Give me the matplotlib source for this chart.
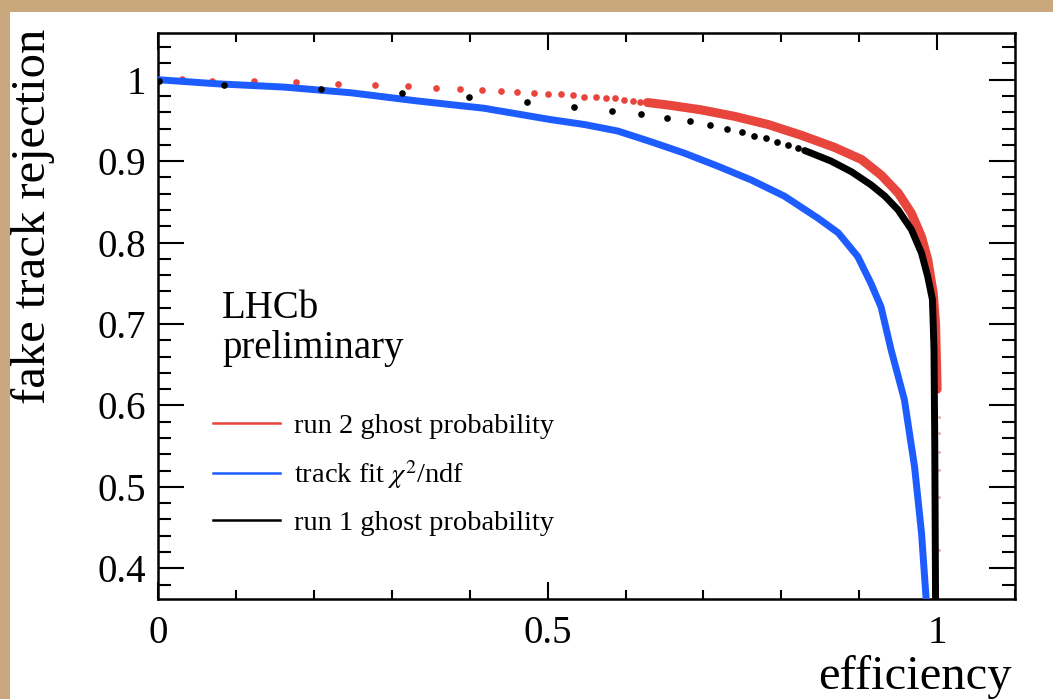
import matplotlib
matplotlib.use("Agg")
import matplotlib.pyplot as plt
from matplotlib.lines import Line2D
from matplotlib.patches import Rectangle
from matplotlib.ticker import MultipleLocator, FixedLocator

plt.rcParams['font.family'] = ['Liberation Serif', 'DejaVu Serif']
plt.rcParams['mathtext.fontset'] = 'stix'

# ---- data ----
red_dot_eff = [0.030, 0.069, 0.123, 0.177, 0.231, 0.278, 0.320, 0.357, 0.388, 0.416,
               0.440, 0.461, 0.483, 0.500, 0.517, 0.532, 0.547, 0.562, 0.575, 0.587,
               0.598, 0.609, 0.619]
red_dot_rej = [1.001, 0.999, 0.998, 0.997, 0.995, 0.993, 0.992, 0.990, 0.989, 0.987,
               0.986, 0.985, 0.984, 0.982, 0.982, 0.981, 0.979, 0.979, 0.978, 0.977,
               0.975, 0.974, 0.973]
red_curve_eff = [0.628, 0.654, 0.697, 0.740, 0.783, 0.825, 0.868, 0.903, 0.928,
                 0.950, 0.967, 0.980, 0.988, 0.995, 0.998, 0.999, 1.000]
red_curve_rej = [0.972, 0.969, 0.963, 0.955, 0.945, 0.932, 0.917, 0.902, 0.883,
                 0.861, 0.836, 0.807, 0.779, 0.738, 0.700, 0.660, 0.620]
red_tail_eff = [1.002, 1.002, 1.002, 1.002, 1.002, 1.002]
red_tail_rej = [0.586, 0.566, 0.543, 0.521, 0.488, 0.423]

black_dot_eff = [0.001, 0.085, 0.209, 0.313, 0.399, 0.474, 0.534, 0.583, 0.620, 0.653,
                 0.683, 0.709, 0.730, 0.749, 0.765, 0.780, 0.795, 0.808, 0.821]
black_dot_rej = [0.999, 0.994, 0.988, 0.984, 0.979, 0.973, 0.967, 0.962, 0.958, 0.953,
                 0.949, 0.944, 0.940, 0.936, 0.931, 0.928, 0.924, 0.920, 0.916]
black_curve_eff = [0.830, 0.838, 0.864, 0.890, 0.915, 0.933, 0.950, 0.967, 0.980, 0.988,
                   0.994, 0.996, 0.997, 0.998]
black_curve_rej = [0.913, 0.910, 0.900, 0.887, 0.871, 0.857, 0.840, 0.816, 0.787, 0.758,
                   0.730, 0.668, 0.550, 0.360]

blue_eff = [0.0, 0.075, 0.161, 0.247, 0.332, 0.418, 0.504, 0.547, 0.590, 0.632, 0.675,
            0.718, 0.761, 0.804, 0.847, 0.873, 0.898, 0.915, 0.928, 0.941, 0.958, 0.971,
            0.980, 0.986]
blue_rej = [1.0, 0.995, 0.991, 0.984, 0.974, 0.965, 0.951, 0.945, 0.937, 0.924, 0.910,
            0.894, 0.877, 0.857, 0.830, 0.812, 0.783, 0.750, 0.721, 0.668, 0.607, 0.525,
            0.443, 0.361]

labels = ["run 2 ghost probability", r"track fit $\chi^2$/ndf", "run 1 ghost probability"]
x_major = [0, 0.5, 1]
y_major = [0.4, 0.5, 0.6, 0.7, 0.8, 0.9, 1.0]
y_ticklabels = ["0.4", "0.5", "0.6", "0.7", "0.8", "0.9", "1"]
x_ticklabels = ["0", "0.5", "1"]

RED = '#e8453c'
BLUE = '#1d5cff'
BLACK = '#000000'
BG = '#c8a87c'

W, H = 1053, 699
fig = plt.figure(figsize=(W / 100, H / 100), dpi=100, facecolor=BG)
fig.patches.append(Rectangle((10 / W, 0), 1, 1 - 12 / H, transform=fig.transFigure,
                             facecolor='white', edgecolor='none', zorder=-10))

ax = fig.add_axes([158.3 / W, 1 - 599.3 / H, (1015 - 158.3) / W, (599.3 - 33.3) / H])
ax.set_xlim(0, 1.1)
ax.set_ylim(0.362, 1.057)

# curves
ax.plot(red_dot_eff, red_dot_rej, 'o', color=RED, ms=4.8, mew=0, zorder=2)
ax.plot(red_curve_eff, red_curve_rej, '-', color=RED, lw=6.5, solid_capstyle='round', zorder=2)
ax.plot(red_tail_eff, red_tail_rej, 'o', color=RED, ms=2, mew=0, alpha=0.5, zorder=2)
ax.plot(blue_eff, blue_rej, '-', color=BLUE, lw=5, solid_capstyle='round', zorder=3)
ax.plot(black_dot_eff, black_dot_rej, 'o', color=BLACK, ms=4.8, mew=0, zorder=4)
ax.plot(black_curve_eff, black_curve_rej, '-', color=BLACK, lw=5, solid_capstyle='round', zorder=4)

# axes styling
for s in ax.spines.values():
    s.set_linewidth(1.8)
ax.xaxis.set_major_locator(FixedLocator(x_major))
ax.xaxis.set_minor_locator(MultipleLocator(0.1))
ax.yaxis.set_major_locator(FixedLocator(y_major))
ax.yaxis.set_minor_locator(MultipleLocator(0.02))
ax.set_xticklabels(x_ticklabels)
ax.set_yticklabels(y_ticklabels)
ax.tick_params(axis='both', which='both', direction='in', top=True, right=True, width=1.5,
               labelsize=28)
ax.tick_params(axis='x', which='major', length=12.5, pad=11)
ax.tick_params(axis='x', which='minor', length=6.5)
ax.tick_params(axis='y', which='major', length=19, pad=9)
ax.tick_params(axis='y', which='minor', length=9.5)

ax.set_xlabel("efficiency", fontsize=35, loc='right')
ax.xaxis.set_label_coords(0.996, -0.098)
ax.set_ylabel("fake track rejection", fontsize=35, loc='top')
ax.yaxis.set_label_coords(-0.1206, 1.009)

ax.text((222 - 158.3) / 856.7, 1 - (358 - 33.3) / 566, "LHCb\npreliminary", transform=ax.transAxes,
        fontsize=28, va='baseline', ha='left', linespacing=1.1)

handles = [Line2D([], [], color=RED, lw=1.8),
           Line2D([], [], color=BLUE, lw=1.8),
           Line2D([], [], color=BLACK, lw=1.8)]
leg = ax.legend(handles, labels, loc='upper left',
                bbox_to_anchor=(213 / W, 1 - 413 / H), bbox_transform=fig.transFigure,
                frameon=False, fontsize=20.5, handlelength=2.35, handletextpad=0.5,
                labelspacing=0.67, borderpad=0, borderaxespad=0)

fig.savefig("out.png", dpi=100, facecolor=fig.get_facecolor())
